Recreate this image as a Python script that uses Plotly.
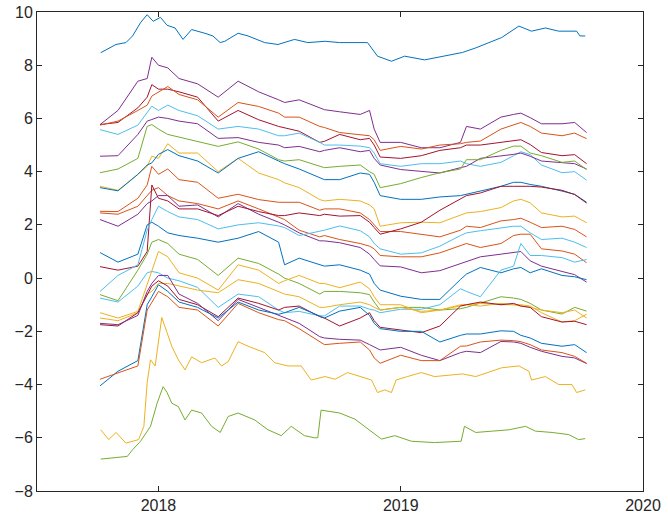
import plotly.graph_objects as go

dates = ["2017-10-05", "2017-11-01", "2017-12-01", "2017-12-15", "2017-12-22", "2018-01-01",
         "2018-01-15", "2018-02-01", "2018-03-01", "2018-04-01", "2018-05-01", "2018-06-01",
         "2018-07-01", "2018-07-10", "2018-08-01", "2018-09-01", "2018-09-08", "2018-10-01",
         "2018-11-01", "2018-11-15", "2018-11-22", "2018-12-01", "2019-01-01", "2019-02-01",
         "2019-03-01", "2019-04-01", "2019-04-10", "2019-05-01", "2019-06-01", "2019-06-20",
         "2019-07-01", "2019-07-15", "2019-08-01", "2019-09-01", "2019-09-20", "2019-10-08"]

# top blue series, read at a finer spacing
dates01 = ["2017-10-06", "2017-10-29", "2017-11-13", "2017-11-23", "2017-12-05", "2017-12-15",
           "2017-12-24", "2018-01-04", "2018-01-14", "2018-01-26", "2018-02-07", "2018-02-20",
           "2018-03-12", "2018-03-24", "2018-04-04", "2018-04-11", "2018-05-01", "2018-05-16",
           "2018-06-10", "2018-06-30", "2018-07-25", "2018-08-14", "2018-09-09", "2018-10-01",
           "2018-11-12", "2018-11-27", "2018-12-18", "2019-01-07", "2019-02-06", "2019-03-08",
           "2019-04-04", "2019-04-24", "2019-05-14", "2019-06-02", "2019-06-28", "2019-07-17",
           "2019-08-07", "2019-08-27", "2019-09-23", "2019-09-28", "2019-10-06"]
s01 = [8.47, 8.78, 8.85, 9.1, 9.6, 9.9, 9.65, 9.8, 9.5, 9.4, 8.97, 9.34, 9.2, 9.1, 8.85, 8.9,
       9.2, 9.1, 8.85, 8.78, 8.97, 8.85, 8.9, 8.85, 8.85, 8.34, 8.15, 8.34, 8.2, 8.34, 8.48,
       8.65, 8.85, 9.04, 9.47, 9.28, 9.4, 9.28, 9.28, 9.1, 9.1]

s02 = [5.77, 6.3, 7.4, 7.5, 8.3, 8.0, 7.9, 7.5, 7.3, 6.8, 7.4, 7.0, 6.7, 6.6, 6.7, 6.4, 6.33, 6.25, 6.15, 6.3, 5.6, 5.1, 5.1, 4.9, 4.9, 5.1, 5.7, 5.6, 6.05, 6.15, 6.2, 6.03, 5.8, 5.8, 5.85, 5.47]
s03 = [5.77, 5.85, 6.4, 6.8, 7.27, 7.1, 7.1, 7.0, 6.8, 5.9, 6.3, 5.95, 5.7, 5.65, 5.52, 5.1, 5.14, 5.4, 5.2, 5.25, 5.0, 4.55, 4.5, 4.6, 4.8, 4.9, 5.0, 5.0, 5.1, 5.15, 5.2, 5.02, 4.72, 4.6, 4.64, 4.3]
s04 = [5.75, 5.9, 6.3, 6.5, 6.84, 7.0, 7.2, 6.9, 6.7, 6.05, 6.6, 6.45, 6.2, 6.05, 6.05, 5.7, 5.66, 5.47, 5.4, 5.35, 5.2, 4.8, 4.95, 4.85, 5.0, 5.05, 5.1, 5.15, 5.6, 5.75, 5.85, 5.7, 5.45, 5.35, 5.45, 5.24]
s05 = [5.58, 5.4, 5.75, 6.2, 6.46, 6.3, 6.5, 6.3, 6.1, 5.6, 5.7, 5.6, 5.35, 5.35, 5.45, 5.1, 5.0, 5.0, 4.96, 4.9, 4.7, 4.3, 4.2, 4.3, 4.3, 4.4, 4.3, 4.2, 4.35, 4.6, 4.75, 4.64, 4.25, 3.96, 4.0, 3.68]
s06 = [4.58, 4.6, 5.4, 5.9, 5.96, 6.05, 6.0, 5.9, 5.8, 5.25, 5.28, 5.1, 5.0, 4.9, 4.95, 4.75, 4.8, 4.9, 4.75, 4.8, 4.5, 4.25, 4.08, 4.0, 3.95, 4.15, 4.2, 4.5, 4.58, 4.65, 4.7, 4.58, 4.4, 4.33, 4.3, 4.1]
s07 = [3.96, 4.1, 4.5, 5.7, 5.77, 5.6, 5.4, 5.3, 5.15, 4.95, 5.12, 4.85, 4.45, 4.4, 4.45, 4.2, 4.15, 4.2, 4.25, 4.0, 3.9, 3.4, 3.55, 3.78, 3.96, 4.1, 4.45, 4.45, 4.8, 4.96, 4.96, 4.7, 4.6, 4.35, 4.4, 4.08]
s08 = [3.45, 3.3, 3.9, 4.2, 4.58, 4.5, 5.05, 4.7, 4.7, 4.0, 4.5, 3.95, 3.7, 3.58, 3.4, 2.95, 2.9, 2.96, 2.9, 2.75, 2.6, 1.95, 2.08, 2.1, 2.08, 2.35, 2.45, 2.5, 2.65, 2.9, 2.96, 2.83, 2.45, 2.3, 2.33, 2.08]
s09 = [3.4, 3.28, 3.9, 4.25, 4.33, 4.65, 4.83, 4.6, 4.4, 3.95, 4.5, 4.75, 4.4, 4.3, 4.1, 3.75, 3.7, 3.7, 3.95, 3.9, 3.6, 3.1, 2.96, 2.96, 3.05, 3.1, 3.15, 3.25, 3.45, 3.6, 3.6, 3.52, 3.45, 3.27, 3.15, 2.85]
s10 = [2.51, 2.5, 3.0, 3.5, 4.2, 3.9, 4.1, 3.7, 3.6, 3.0, 3.15, 2.95, 2.85, 2.85, 2.85, 2.55, 2.6, 2.6, 2.45, 2.2, 2.0, 1.75, 1.75, 1.64, 1.55, 1.8, 1.95, 1.9, 2.15, 2.2, 2.25, 2.1, 1.9, 1.95, 1.83, 1.55]
s11 = [2.45, 2.4, 2.7, 3.1, 3.3, 3.4, 3.1, 2.9, 2.8, 2.6, 2.9, 2.6, 2.3, 2.2, 1.8, 1.55, 1.6, 1.45, 1.3, 1.2, 1.1, 0.85, 0.8, 0.8, 0.95, 1.2, 1.3, 1.15, 1.3, 1.6, 1.65, 1.65, 1.1, 1.02, 0.9, 0.58]
s12 = [2.2, 1.95, 2.4, 2.8, 2.9, 3.1, 3.1, 2.7, 2.75, 2.3, 2.8, 2.4, 2.1, 2.0, 1.7, 1.4, 1.4, 1.33, 1.15, 0.9, 0.7, 0.46, 0.42, 0.2, 0.28, 0.55, 0.6, 0.8, 0.9, 0.95, 1.0, 0.65, 0.45, 0.25, 0.13, -0.15]
s13 = [0.96, 0.6, 0.9, 2.0, 2.1, 1.95, 1.7, 1.6, 1.5, 1.35, 1.5, 1.75, 1.35, 0.5, 0.75, 0.5, 0.45, 0.5, 0.3, 0.15, -0.2, -0.45, -0.68, -0.8, -0.8, -0.05, 0.15, 0.4, 0.2, 0.35, 0.4, 0.2, 0.35, 0.1, 0.05, -0.06]
s14 = [0.43, 0.3, 0.45, 1.0, 3.5, 3.0, 2.9, 2.6, 2.6, 2.35, 2.7, 2.5, 2.35, 2.35, 2.45, 2.35, 2.4, 2.33, 2.35, 2.1, 1.9, 1.65, 1.85, 2.1, 2.55, 2.98, 3.1, 3.2, 3.45, 3.45, 3.45, 3.45, 3.42, 3.3, 3.14, 2.82]
s15 = [-0.5, 0.1, 0.5, 1.8, 2.2, 2.7, 2.5, 2.3, 2.2, 1.85, 2.0, 2.08, 1.96, 1.9, 1.6, 1.75, 1.8, 1.96, 1.78, 1.55, 1.3, 1.1, 0.9, 0.95, 1.2, 1.6, 1.7, 1.78, 1.9, 1.95, 1.95, 1.7, 1.45, 1.5, 1.35, 1.15]
s16 = [-0.62, -0.85, 0.3, 0.9, 1.35, 1.45, 1.3, 0.9, 0.7, 0.1, 0.75, 0.55, 0.15, 0.0, -0.2, -0.6, -0.5, -0.5, -0.55, -0.62, -0.9, -1.2, -1.1, -1.1, -1.2, -1.15, -1.1, -0.95, -0.7, -0.75, -0.8, -0.95, -1.2, -1.35, -1.1, -1.24]
s17 = [-0.75, -0.9, -0.3, 0.2, 0.25, 0.2, 0.0, -0.1, -0.35, -1.1, -0.6, -0.7, -1.2, -1.3, -1.25, -1.42, -1.42, -1.05, -1.05, -1.17, -1.2, -1.3, -1.17, -1.17, -1.0, -0.4, -0.5, -0.7, 0.3, 0.45, 1.3, 0.85, 0.85, 0.77, 0.6, 0.7]
s18 = [-1.3, -1.5, -1.25, -0.2, 0.3, 1.0, 0.8, 0.2, 0.0, -0.45, 0.5, 0.3, -0.2, -0.1, 0.1, -0.2, -0.2, -0.36, -0.15, -0.4, -0.7, -1.0, -1.0, -1.3, -1.2, -1.05, -1.0, -1.05, -0.95, -1.0, -1.0, -1.05, -1.3, -1.65, -1.6, -1.36]
s19 = [-1.5, -1.6, -1.3, -0.6, -0.5, -0.2, -0.2, -0.3, -0.45, -0.55, -0.06, -0.2, -0.5, -0.6, -0.7, -1.1, -1.1, -1.0, -0.9, -1.0, -1.1, -1.2, -1.1, -1.25, -1.2, -1.0, -1.0, -0.95, -1.0, -1.0, -1.05, -1.1, -1.2, -1.3, -1.2, -1.5]
s20 = [-1.75, -1.8, -1.3, -0.6, -0.3, -0.1, -0.3, -0.8, -1.0, -1.45, -0.75, -0.95, -1.2, -1.1, -1.05, -1.45, -1.5, -1.8, -1.5, -1.3, -1.6, -1.85, -1.95, -2.05, -1.8, -1.05, -1.0, -0.9, -1.0, -0.95, -1.05, -1.1, -1.45, -1.65, -1.62, -1.75]
s21 = [-1.7, -1.75, -1.4, -0.5, -0.2, 0.1, 0.1, -0.6, -0.95, -1.6, -0.8, -1.1, -1.42, -1.5, -1.7, -2.2, -2.25, -2.3, -2.33, -2.5, -2.6, -2.7, -2.6, -2.9, -3.1, -2.8, -2.75, -2.8, -2.38, -2.4, -2.45, -2.6, -2.75, -2.94, -3.0, -3.21]
s22 = [-4.05, -3.5, -3.1, -1.0, -0.7, -0.25, -0.5, -0.9, -1.1, -1.5, -0.9, -1.2, -1.36, -1.3, -1.1, -1.45, -1.5, -1.24, -1.1, -1.4, -1.7, -1.9, -2.0, -2.0, -2.4, -2.15, -2.1, -2.1, -1.98, -2.0, -2.15, -2.25, -2.45, -2.56, -2.5, -2.8]
s23 = [-3.8, -3.55, -3.3, -1.2, -0.9, -0.5, -0.7, -1.1, -1.2, -1.8, -0.95, -1.3, -1.56, -1.6, -1.9, -2.4, -2.5, -2.45, -2.4, -2.7, -3.0, -3.2, -2.9, -3.1, -3.1, -2.56, -2.55, -2.4, -2.33, -2.35, -2.39, -2.5, -2.7, -2.8, -2.94, -3.2]

# lower yellow series, read at a finer spacing
dates24 = ["2017-10-06", "2017-10-18", "2017-10-29", "2017-11-13", "2017-12-02", "2017-12-10",
           "2017-12-15", "2017-12-20", "2017-12-27", "2018-01-06", "2018-01-14", "2018-01-21",
           "2018-01-31", "2018-02-10", "2018-02-20", "2018-03-07", "2018-03-27", "2018-04-06",
           "2018-04-16", "2018-05-01", "2018-05-16", "2018-06-10", "2018-06-25", "2018-07-15",
           "2018-08-04", "2018-08-19", "2018-09-09", "2018-09-24", "2018-10-13", "2018-11-03",
           "2018-11-18", "2018-11-27", "2018-12-08", "2018-12-18", "2018-12-25", "2019-01-11",
           "2019-02-01", "2019-02-21", "2019-04-04", "2019-04-24", "2019-05-19", "2019-06-02",
           "2019-06-28", "2019-07-13", "2019-07-17", "2019-08-07", "2019-08-27", "2019-09-16",
           "2019-09-23", "2019-10-06"]
s24 = [-5.7, -6.07, -5.8, -6.2, -6.07, -5.57, -3.92, -3.07, -3.3, -1.48, -2.05, -2.56, -3.07,
       -3.45, -2.96, -3.18, -3.0, -3.3, -3.14, -2.39, -2.56, -2.8, -3.18, -3.3, -3.3, -3.83,
       -3.7, -3.8, -3.55, -3.7, -3.83, -4.3, -4.2, -4.3, -3.83, -3.7, -3.55, -3.7, -3.6, -3.7,
       -3.5, -3.37, -3.3, -3.5, -3.83, -3.7, -4.0, -4.0, -4.3, -4.2]

# bottom green series, read at a finer spacing
dates25 = ["2017-10-06", "2017-10-29", "2017-11-15", "2017-11-23", "2017-12-05", "2017-12-20",
           "2017-12-30", "2018-01-08", "2018-01-14", "2018-01-21", "2018-01-31", "2018-02-10",
           "2018-02-20", "2018-03-07", "2018-03-22", "2018-04-04", "2018-04-16", "2018-05-01",
           "2018-05-26", "2018-06-15", "2018-07-05", "2018-07-20", "2018-08-09", "2018-08-24",
           "2018-08-29", "2018-09-03", "2018-10-01", "2018-10-24", "2018-11-12", "2018-12-03",
           "2018-12-23", "2019-01-17", "2019-02-21", "2019-04-02", "2019-04-07", "2019-04-24",
           "2019-05-19", "2019-06-13", "2019-07-08", "2019-07-23", "2019-08-17", "2019-09-11",
           "2019-09-26", "2019-10-06"]
s25 = [-6.8, -6.73, -6.7, -6.45, -6.13, -5.57, -4.7, -4.08, -4.3, -4.7, -4.83, -5.33, -4.96,
       -5.07, -5.57, -5.8, -5.2, -5.07, -5.33, -5.7, -5.92, -5.57, -5.92, -6.0, -6.0, -4.96,
       -5.07, -5.3, -5.67, -6.05, -5.92, -6.13, -6.18, -6.13, -5.57, -5.8, -5.75, -5.7, -5.57,
       -5.75, -5.8, -5.88, -6.07, -6.03]

BLUE, ORANGE, YELLOW, PURPLE = "#0072BD", "#D95319", "#EDB120", "#7E2F8E"
GREEN, LBLUE, RED = "#77AC30", "#4DBEEE", "#A2142F"

series = [
    (dates01, s01, BLUE), (dates, s02, PURPLE), (dates, s03, RED), (dates, s04, ORANGE),
    (dates, s05, LBLUE), (dates, s06, PURPLE), (dates, s07, GREEN), (dates, s08, YELLOW),
    (dates, s09, BLUE), (dates, s10, ORANGE), (dates, s11, ORANGE), (dates, s12, PURPLE),
    (dates, s13, BLUE), (dates, s14, RED), (dates, s15, LBLUE), (dates, s16, GREEN),
    (dates, s17, LBLUE), (dates, s18, YELLOW), (dates, s19, YELLOW), (dates, s20, RED),
    (dates, s21, PURPLE), (dates, s22, BLUE), (dates, s23, ORANGE), (dates24, s24, YELLOW),
    (dates25, s25, GREEN),
]

x_ticks = ["2018-01-01", "2019-01-01", "2020-01-01"]
x_tick_text = ["2018", "2019", "2020"]
y_ticks = [-8, -6, -4, -2, 0, 2, 4, 6, 8, 10]

fig = go.Figure()
for xs, vals, col in series:
    fig.add_trace(go.Scatter(x=xs, y=vals, mode="lines",
                             line=dict(color=col, width=1), showlegend=False,
                             hoverinfo="skip"))

axis_common = dict(showline=True, linecolor="#262626", linewidth=1, mirror="ticks",
                   ticks="inside", ticklen=5, tickcolor="#262626", showgrid=False,
                   zeroline=False, automargin=False,
                   tickfont=dict(family="Liberation Sans, Arial", size=16, color="#262626"))

fig.update_layout(
    width=668, height=523,
    margin=dict(l=37, r=25, t=12, b=32, pad=0),
    paper_bgcolor="white", plot_bgcolor="white",
    xaxis=dict(type="date", range=["2017-07-02", "2020-01-01"], tickvals=x_ticks,
               ticktext=x_tick_text, **axis_common),
    yaxis=dict(range=[-8, 10], tickvals=y_ticks, **axis_common),
)

fig.write_html("out.html", config={"displayModeBar": False},
               post_script="document.body.style.margin='0';document.body.style.padding='0';")
